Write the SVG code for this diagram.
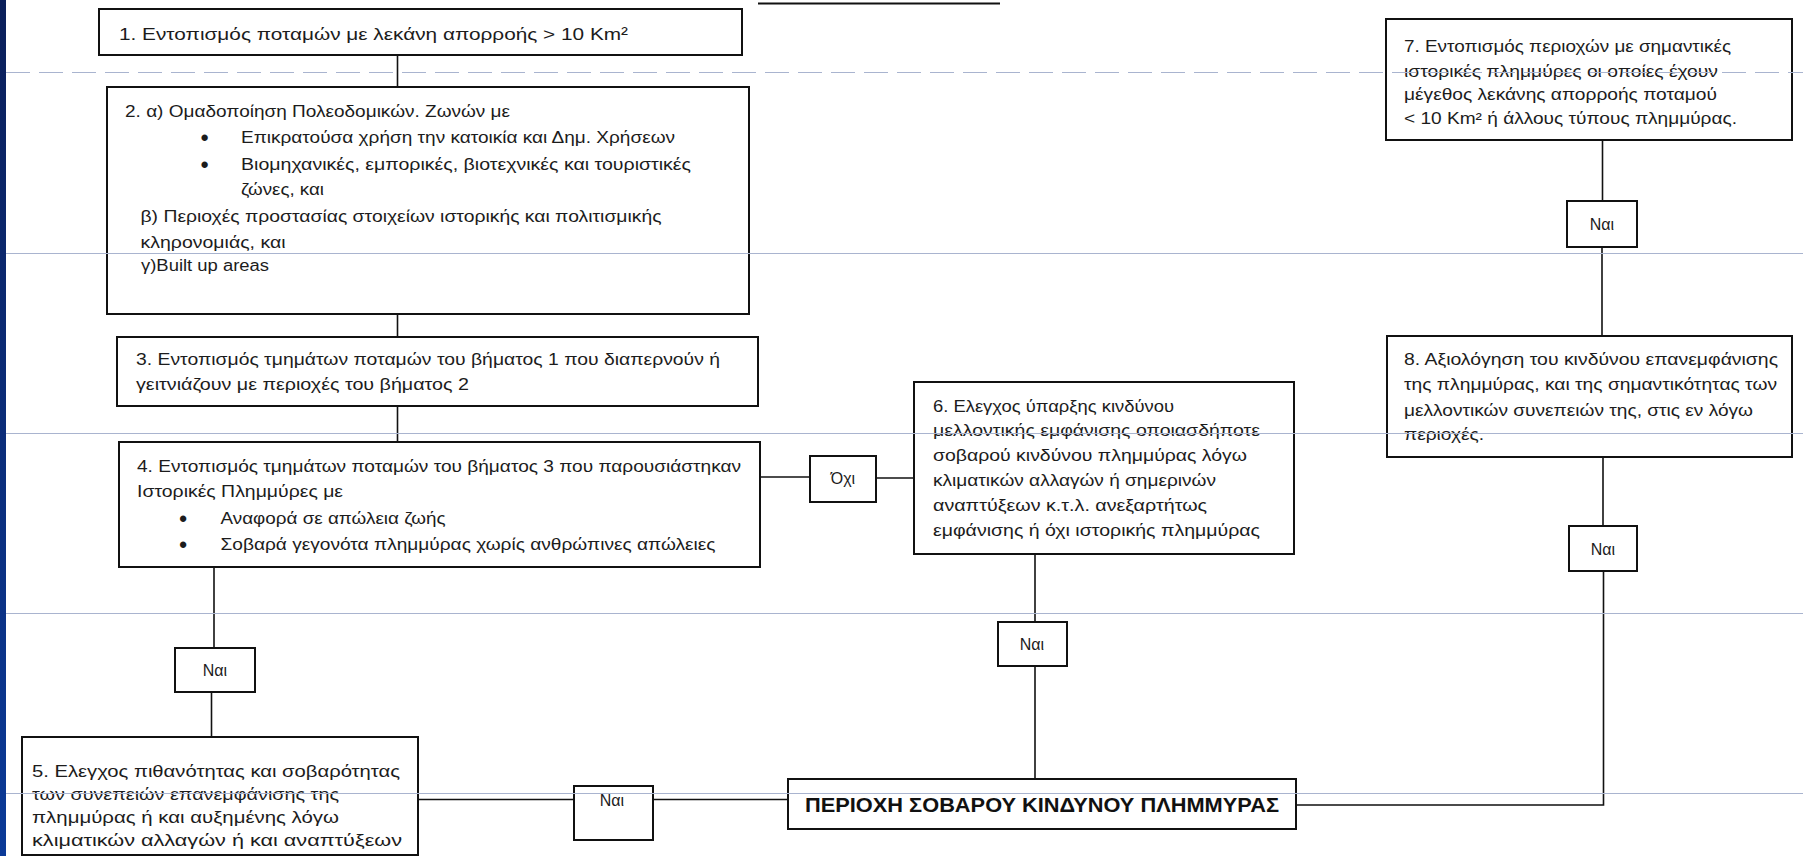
<svg xmlns="http://www.w3.org/2000/svg" width="1803" height="856" viewBox="0 0 1803 856">
<defs>
<linearGradient id="bar" x1="0" y1="0" x2="0" y2="1">
<stop offset="0" stop-color="#0b1f5a"/>
<stop offset="1" stop-color="#0b3a98"/>
</linearGradient>
<style>
.box{fill:#fff;stroke:#111;stroke-width:2}
.conn{stroke:#111;stroke-width:1.6;fill:none}
.t{font-family:"Liberation Sans",Arial,sans-serif;font-size:16px;fill:#1c1c1c}
.c{text-anchor:middle}
.bul{font-size:22px;font-weight:bold}
.b{font-weight:bold;font-size:21px;fill:#111}
.bg{stroke:#a9b4cf;stroke-width:1;fill:none}
</style>
</defs>
<rect x="0" y="0" width="1803" height="856" fill="#fff"/>
<rect x="0" y="0" width="6" height="856" fill="url(#bar)"/>
<line x1="758" y1="3.5" x2="1000" y2="3.5" stroke="#111" stroke-width="2"/>

<g id="connectors">
<line class="conn" x1="397.5" y1="55" x2="397.5" y2="87"/>
<line class="conn" x1="397.5" y1="314" x2="397.5" y2="337"/>
<line class="conn" x1="397.5" y1="406" x2="397.5" y2="442"/>
<line class="conn" x1="214" y1="567" x2="214" y2="648"/>
<line class="conn" x1="211.5" y1="692" x2="211.5" y2="737"/>
<line class="conn" x1="418" y1="799.5" x2="574" y2="799.5"/>
<line class="conn" x1="653" y1="799.5" x2="788" y2="799.5"/>
<line class="conn" x1="760" y1="477" x2="810" y2="477"/>
<line class="conn" x1="876" y1="478" x2="914" y2="478" stroke="#444" stroke-width="3"/>
<line class="conn" x1="1035" y1="554" x2="1035" y2="622"/>
<line class="conn" x1="1035" y1="666" x2="1035" y2="779"/>
<polyline class="conn" points="1296,805 1603.5,805 1603.5,571"/>
<line class="conn" x1="1603" y1="457" x2="1603" y2="526"/>
<line class="conn" x1="1602.5" y1="140" x2="1602.5" y2="201"/>
<line class="conn" x1="1602" y1="247" x2="1602" y2="336"/>
</g>

<g id="n1">
<rect class="box" x="99" y="9" width="643" height="46"/>
<text class="t" x="119" y="39.5" style="font-size:17px" textLength="509" lengthAdjust="spacingAndGlyphs">1. Εντοπισμός ποταμών με λεκάνη απορροής &gt; 10 Km²</text>
</g>

<g id="n2">
<rect class="box" x="107" y="87" width="642" height="227"/>
<text class="t" x="125" y="117" textLength="385" lengthAdjust="spacingAndGlyphs">2. α) Ομαδοποίηση Πολεοδομικών. Ζωνών με</text>
<text class="t c bul" x="204.5" y="145">•</text>
<text class="t" x="241" y="143" textLength="434" lengthAdjust="spacingAndGlyphs">Επικρατούσα χρήση την κατοικία και Δημ. Χρήσεων</text>
<text class="t c bul" x="204.5" y="172">•</text>
<text class="t" x="241" y="170" textLength="450" lengthAdjust="spacingAndGlyphs">Βιομηχανικές, εμπορικές, βιοτεχνικές και τουριστικές</text>
<text class="t" x="241" y="195" textLength="83" lengthAdjust="spacingAndGlyphs">ζώνες, και</text>
<text class="t" x="140.5" y="221.5" textLength="521" lengthAdjust="spacingAndGlyphs">β) Περιοχές προστασίας στοιχείων ιστορικής και πολιτισμικής</text>
<text class="t" x="140.5" y="248" textLength="145" lengthAdjust="spacingAndGlyphs">κληρονομιάς, και</text>
<text class="t" x="141" y="270.5" textLength="128" lengthAdjust="spacingAndGlyphs">γ)Built up areas</text>
</g>

<g id="n3">
<rect class="box" x="117" y="337" width="641" height="69"/>
<text class="t" x="136" y="365" textLength="584" lengthAdjust="spacingAndGlyphs">3. Εντοπισμός τμημάτων ποταμών του βήματος 1 που διαπερνούν ή</text>
<text class="t" x="136" y="390" textLength="333" lengthAdjust="spacingAndGlyphs">γειτνιάζουν με περιοχές του βήματος 2</text>
</g>

<g id="n4">
<rect class="box" x="119" y="442" width="641" height="125"/>
<text class="t" x="137" y="471.5" textLength="604" lengthAdjust="spacingAndGlyphs">4. Εντοπισμός τμημάτων ποταμών του βήματος 3 που παρουσιάστηκαν</text>
<text class="t" x="137" y="496.5" textLength="206" lengthAdjust="spacingAndGlyphs">Ιστορικές Πλημμύρες με</text>
<text class="t c bul" x="183" y="526">•</text>
<text class="t" x="220.5" y="524" textLength="225" lengthAdjust="spacingAndGlyphs">Αναφορά σε απώλεια ζωής</text>
<text class="t c bul" x="183" y="552">•</text>
<text class="t" x="220.5" y="550" textLength="495" lengthAdjust="spacingAndGlyphs">Σοβαρά γεγονότα πλημμύρας χωρίς ανθρώπινες απώλειες</text>
</g>

<g id="yes1">
<rect class="box" x="175" y="648" width="80" height="44"/>
<text class="t c" x="215" y="676">Ναι</text>
</g>

<g id="n5">
<rect class="box" x="22" y="737" width="396" height="118"/>
<text class="t" x="32" y="777" textLength="368" lengthAdjust="spacingAndGlyphs">5. Ελεγχος πιθανότητας και σοβαρότητας</text>
<text class="t" x="32" y="800" textLength="307" lengthAdjust="spacingAndGlyphs">των συνεπειών επανεμφάνισης της</text>
<text class="t" x="32" y="823" textLength="307" lengthAdjust="spacingAndGlyphs">πλημμύρας ή και αυξημένης λόγω</text>
<text class="t" x="32" y="846" textLength="370" lengthAdjust="spacingAndGlyphs">κλιματικών αλλαγών ή και αναπτύξεων</text>
</g>

<g id="yes2">
<rect class="box" x="574" y="786" width="79" height="54"/>
<text class="t c" x="612" y="806">Ναι</text>
</g>

<g id="result">
<rect class="box" x="788" y="779" width="508" height="50"/>
<text class="t b" x="805" y="812" textLength="474" lengthAdjust="spacingAndGlyphs">ΠΕΡΙΟΧΗ ΣΟΒΑΡΟΥ ΚΙΝΔΥΝΟΥ ΠΛΗΜΜΥΡΑΣ</text>
</g>

<g id="no">
<rect class="box" x="810" y="456" width="66" height="46"/>
<text class="t c" x="843" y="484">Όχι</text>
</g>

<g id="n6">
<rect class="box" x="914" y="382" width="380" height="172"/>
<text class="t" x="933" y="411.5" textLength="241" lengthAdjust="spacingAndGlyphs">6. Ελεγχος ύπαρξης κινδύνου</text>
<text class="t" x="933" y="435.5" textLength="327" lengthAdjust="spacingAndGlyphs">μελλοντικής εμφάνισης οποιασδήποτε</text>
<text class="t" x="933" y="460.5" textLength="314" lengthAdjust="spacingAndGlyphs">σοβαρού κινδύνου πλημμύρας λόγω</text>
<text class="t" x="933" y="486" textLength="283" lengthAdjust="spacingAndGlyphs">κλιματικών αλλαγών ή σημερινών</text>
<text class="t" x="933" y="510.5" textLength="274" lengthAdjust="spacingAndGlyphs">αναπτύξεων κ.τ.λ. ανεξαρτήτως</text>
<text class="t" x="933" y="536" textLength="327" lengthAdjust="spacingAndGlyphs">εμφάνισης ή όχι ιστορικής πλημμύρας</text>
</g>

<g id="yes3">
<rect class="box" x="998" y="622" width="69" height="44"/>
<text class="t c" x="1032" y="650">Ναι</text>
</g>

<g id="n7">
<rect class="box" x="1386" y="19" width="406" height="121"/>
<text class="t" x="1404" y="51.5" textLength="327" lengthAdjust="spacingAndGlyphs">7. Εντοπισμός περιοχών με σημαντικές</text>
<text class="t" x="1404" y="77" textLength="314" lengthAdjust="spacingAndGlyphs">ιστορικές πλημμύρες οι οποίες έχουν</text>
<text class="t" x="1404" y="100" textLength="313" lengthAdjust="spacingAndGlyphs">μέγεθος λεκάνης απορροής ποταμού</text>
<text class="t" x="1404" y="123.5" textLength="333" lengthAdjust="spacingAndGlyphs">&lt; 10 Km² ή άλλους τύπους πλημμύρας.</text>
</g>

<g id="yes5">
<rect class="box" x="1567" y="201" width="70" height="46"/>
<text class="t c" x="1602" y="230">Ναι</text>
</g>

<g id="n8">
<rect class="box" x="1387" y="336" width="405" height="121"/>
<text class="t" x="1404" y="365" textLength="374" lengthAdjust="spacingAndGlyphs">8. Αξιολόγηση του κινδύνου επανεμφάνισης</text>
<text class="t" x="1404" y="390" textLength="373" lengthAdjust="spacingAndGlyphs">της πλημμύρας, και της σημαντικότητας των</text>
<text class="t" x="1404" y="415.5" textLength="349" lengthAdjust="spacingAndGlyphs">μελλοντικών συνεπειών της, στις εν λόγω</text>
<text class="t" x="1404" y="439.5" textLength="80" lengthAdjust="spacingAndGlyphs">περιοχές.</text>
</g>

<g id="yes4">
<rect class="box" x="1569" y="526" width="68" height="45"/>
<text class="t c" x="1603" y="555">Ναι</text>
</g>

<g id="background-lines">
<line class="bg" x1="6" y1="72.5" x2="1803" y2="72.5" stroke-dasharray="24 9"/>
<line class="bg" x1="6" y1="253.5" x2="1803" y2="253.5"/>
<line class="bg" x1="6" y1="433.5" x2="1803" y2="433.5"/>
<line class="bg" x1="6" y1="613.5" x2="1803" y2="613.5"/>
<line class="bg" x1="6" y1="793.5" x2="1803" y2="793.5"/>
</g>
</svg>
